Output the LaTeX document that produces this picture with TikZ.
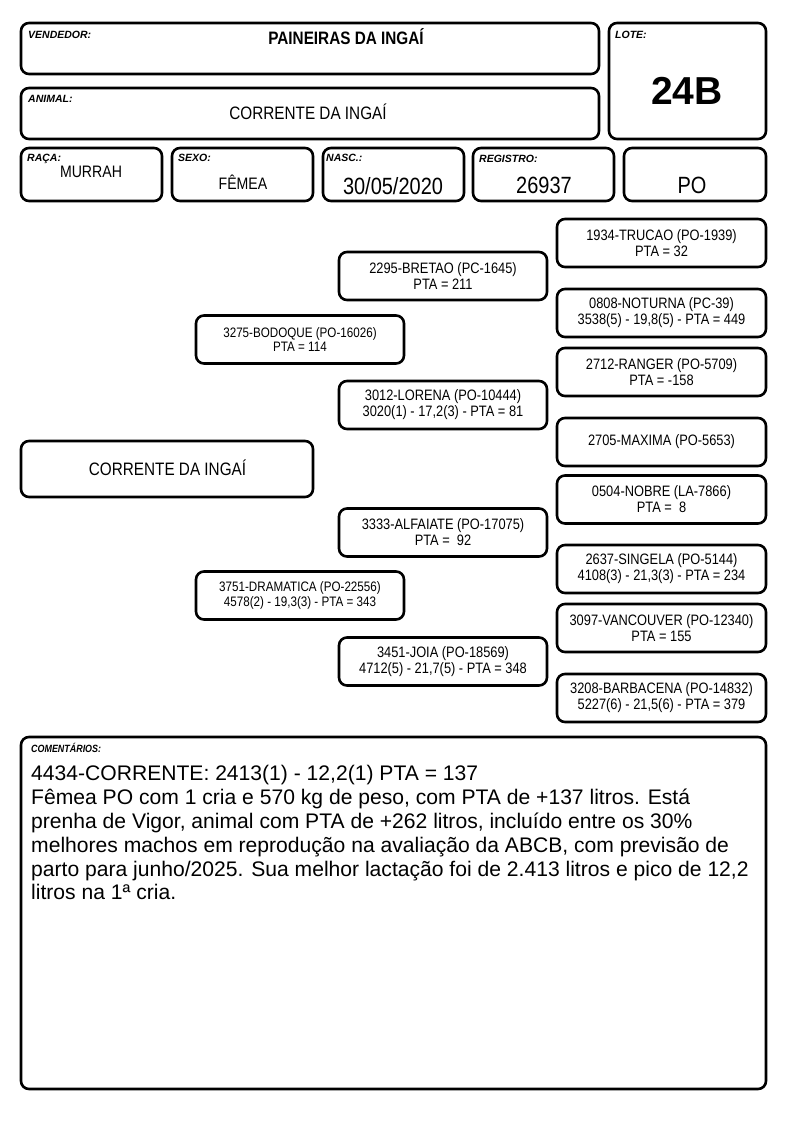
\documentclass[tikz,border=0pt]{standalone}
\usepackage{fontspec}
\setmainfont{Liberation Sans}
\newfontfamily\cond{Liberation Sans}[FakeStretch=0.85]
\begin{document}
\begin{tikzpicture}[x=1pt,y=-1pt]
\tikzset{
 bx/.style={draw, line width=2.6pt, rounded corners=8pt, inner sep=0pt},
 lab/.style={font=\bfseries\itshape\fontsize{10.5}{12}\selectfont, anchor=base west, inner sep=0pt},
 ped/.style={bx, minimum width=209pt, minimum height=48pt, align=center, font=\cond\fontsize{15.1}{16}\selectfont},
 pedone/.style={ped, font=\cond\fontsize{13.7}{14.5}\selectfont},
 val/.style={anchor=base, inner sep=0pt},
 big/.style={val, font=\cond\fontsize{23.5}{26}\selectfont},
 mid/.style={val, font=\cond\fontsize{16.6}{19}\selectfont}
}
\useasboundingbox (0,0) rectangle (794,1123);
% header boxes
\node[bx, minimum width=578pt, minimum height=51pt] (vend) at (310,48.5) {};
\node[bx, minimum width=578pt, minimum height=51pt] (anim) at (310,113.5) {};
\node[bx, minimum width=157pt, minimum height=116pt] (lote) at (687.5,81) {};
\node[bx, minimum width=141pt, minimum height=53pt] (raca) at (91.5,174.5) {};
\node[bx, minimum width=141pt, minimum height=53pt] (sexo) at (242.5,174.5) {};
\node[bx, minimum width=141pt, minimum height=53pt] (nasc) at (393.5,174.5) {};
\node[bx, minimum width=141pt, minimum height=53pt] (reg) at (543.5,174.5) {};
\node[bx, minimum width=142pt, minimum height=53pt] (po) at (695,174.5) {};
% labels
\node[lab] (lvend) at (28,39) {VENDEDOR:};
\node[lab] (lanim) at (28,103) {ANIMAL:};
\node[lab] (llote) at (615,39) {LOTE:};
\node[lab] (lraca) at (27,162) {RAÇA:};
\node[lab] (lsexo) at (178,162) {SEXO:};
\node[lab] (lnasc) at (326,162) {NASC.:};
\node[lab] (lreg) at (479,163) {REGISTRO:};
% values
\node[val, font=\cond\bfseries\fontsize{18}{20}\selectfont] (vvend) at (346,44.3) {PAINEIRAS DA INGAÍ};
\node[val, font=\cond\fontsize{18}{20}\selectfont] (vanim) at (308,119.3) {CORRENTE DA INGAÍ};
\node[val, font=\bfseries\fontsize{39}{42}\selectfont] (vlote) at (687,105) {24B};
\node[mid] (vraca) at (91,178) {MURRAH};
\node[mid] (vsexo) at (243,189.3) {FÊMEA};
\node[big] (vnasc) at (393,195) {30/05/2020};
\node[big] (vreg) at (544,194) {26937};
\node[big] (vpo) at (692,194) {PO};
% pedigree
\node[bx, minimum width=292pt, minimum height=56pt] (corr) at (167,469) {};
\node[val, font=\cond\fontsize{18}{20}\selectfont] (vcorr) at (167.5,475.5) {CORRENTE DA INGAÍ};
\node[pedone, minimum width=208pt] (bodoque) at (300,339.5) {3275-BODOQUE (PO-16026)\\PTA = 114};
\node[pedone, minimum width=208pt] (dramatica) at (300,595.5) {3751-DRAMATICA (PO-22556)\\4578(2) - 19,3(3) - PTA = 343};
\node[ped, minimum width=208pt] (bretao) at (443,276) {2295-BRETAO (PC-1645)\\PTA = 211};
\node[ped, minimum width=208pt] (lorena) at (443,405) {3012-LORENA (PO-10444)\\3020(1) - 17,2(3) - PTA = 81};
\node[ped, minimum width=208pt] (alfaiate) at (443,532.5) {3333-ALFAIATE (PO-17075)\\PTA =\ \ 92};
\node[ped, minimum width=208pt] (joia) at (443,661.5) {3451-JOIA (PO-18569)\\4712(5) - 21,7(5) - PTA = 348};
\node[ped] (trucao) at (661.5,243) {1934-TRUCAO (PO-1939)\\PTA = 32};
\node[ped] (noturna) at (661.5,313) {0808-NOTURNA (PC-39)\\3538(5) - 19,8(5) - PTA = 449};
\node[ped] (ranger) at (661.5,372) {2712-RANGER (PO-5709)\\PTA = -158};
\node[ped] (maxima) at (661.5,442) {2705-MAXIMA (PO-5653)};
\node[ped] (nobre) at (661.5,499.5) {0504-NOBRE (LA-7866)\\PTA =\ \ 8};
\node[ped] (singela) at (661.5,569) {2637-SINGELA (PO-5144)\\4108(3) - 21,3(3) - PTA = 234};
\node[ped] (vancouver) at (661.5,628) {3097-VANCOUVER (PO-12340)\\PTA = 155};
\node[ped] (barbacena) at (661.5,698) {3208-BARBACENA (PO-14832)\\5227(6) - 21,5(6) - PTA = 379};
% comments
\node[bx, minimum width=745pt, minimum height=352pt] (comm) at (393.5,913) {};
\node[lab, font=\cond\bfseries\itshape\fontsize{10.5}{12}\selectfont] (lcomm) at (31,752) {COMENTÁRIOS:};
\node[anchor=north west, inner sep=0pt, align=left, font=\fontsize{21.1}{23.8}\selectfont] (tcomm) at (31,765.5) {4434-CORRENTE: 2413(1) - 12,2(1) PTA = 137\\
Fêmea PO com 1 cria e 570 kg de peso, com PTA de +137 litros. Está\\
prenha de Vigor, animal com PTA de +262 litros, incluído entre os 30\%\\
melhores machos em reprodução na avaliação da ABCB, com previsão de\\
parto para junho/2025. Sua melhor lactação foi de 2.413 litros e pico de 12,2\\
litros na 1ª cria.};
\end{tikzpicture}
\end{document}
